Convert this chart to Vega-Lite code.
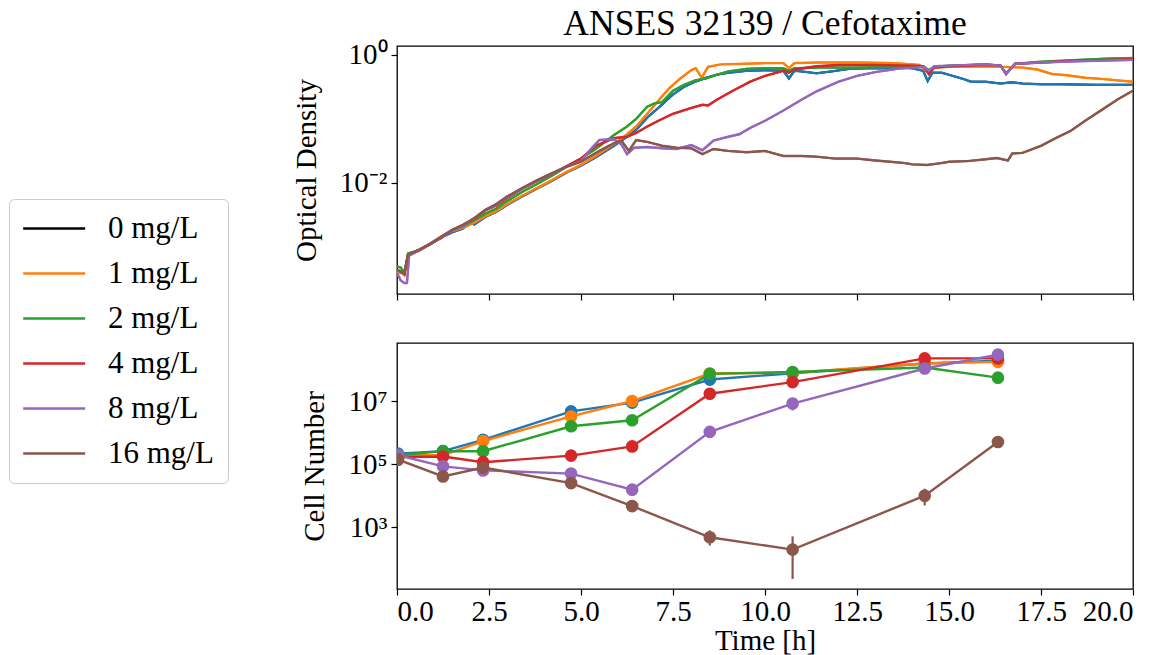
{
  "$schema": "https://vega.github.io/schema/vega-lite/v6.json",
  "padding": {"left": 8, "top": 6, "right": 20, "bottom": 0},
  "background": "white",
  "config": {
    "font": "Liberation Serif",
    "view": {"stroke": "black", "strokeWidth": 1.3},
    "axis": {"labelFont": "Liberation Serif", "titleFont": "Liberation Serif", "labelFontSize": 29, "titleFontSize": 29, "titleFontWeight": "normal", "labelColor": "black", "titleColor": "black", "domain": false, "tickColor": "black", "tickSize": 6, "tickWidth": 1.2, "grid": false, "labelPadding": 4, "titlePadding": 18},
    "legend": {"title": null, "labelFont": "Liberation Serif", "labelFontSize": 31, "labelColor": "black", "strokeColor": "#cccccc", "fillColor": "white", "cornerRadius": 5}
  },
  "datasets": {
    "od": [
      {"c":"0 mg/L","t":0,"od":0.000417},{"c":"0 mg/L","t":0.1,"od":0.000398},{"c":"0 mg/L","t":0.2,"od":0.00038},{"c":"0 mg/L","t":0.3,"od":0.000759},{"c":"0 mg/L","t":0.6,"od":0.000891},{"c":"0 mg/L","t":0.9,"od":0.001096},{"c":"0 mg/L","t":1.2,"od":0.001413},{"c":"0 mg/L","t":1.5,"od":0.001698},{"c":"0 mg/L","t":1.8,"od":0.00195},{"c":"0 mg/L","t":2.0,"od":0.00251},{"c":"0 mg/L","t":2.1,"od":0.00224},{"c":"0 mg/L","t":2.4,"od":0.00295},{"c":"0 mg/L","t":2.7,"od":0.00355},{"c":"0 mg/L","t":3.0,"od":0.00457},{"c":"0 mg/L","t":3.4,"od":0.00617},{"c":"0 mg/L","t":3.8,"od":0.00813},{"c":"0 mg/L","t":4.2,"od":0.01072},{"c":"0 mg/L","t":4.6,"od":0.01445},{"c":"0 mg/L","t":5.0,"od":0.01862},{"c":"0 mg/L","t":5.4,"od":0.0251},{"c":"0 mg/L","t":5.9,"od":0.038},{"c":"0 mg/L","t":6.25,"od":0.0525},{"c":"0 mg/L","t":6.5,"od":0.0676},{"c":"0 mg/L","t":6.8,"od":0.1047},{"c":"0 mg/L","t":7.1,"od":0.148},{"c":"0 mg/L","t":7.5,"od":0.24},{"c":"0 mg/L","t":7.8,"od":0.316},{"c":"0 mg/L","t":8.1,"od":0.38},{"c":"0 mg/L","t":8.4,"od":0.437},{"c":"0 mg/L","t":8.7,"od":0.49},{"c":"0 mg/L","t":9.0,"od":0.525},{"c":"0 mg/L","t":9.5,"od":0.562},{"c":"0 mg/L","t":10.0,"od":0.575},{"c":"0 mg/L","t":10.5,"od":0.562},{"c":"0 mg/L","t":10.65,"od":0.427},{"c":"0 mg/L","t":10.8,"od":0.562},{"c":"0 mg/L","t":11.0,"od":0.55},{"c":"0 mg/L","t":11.4,"od":0.513},{"c":"0 mg/L","t":11.8,"od":0.55},{"c":"0 mg/L","t":12.3,"od":0.603},{"c":"0 mg/L","t":12.8,"od":0.617},{"c":"0 mg/L","t":13.3,"od":0.617},{"c":"0 mg/L","t":13.6,"od":0.631},{"c":"0 mg/L","t":14.0,"od":0.617},{"c":"0 mg/L","t":14.3,"od":0.562},{"c":"0 mg/L","t":14.42,"od":0.389},{"c":"0 mg/L","t":14.55,"od":0.525},{"c":"0 mg/L","t":14.8,"od":0.525},{"c":"0 mg/L","t":15.1,"od":0.468},{"c":"0 mg/L","t":15.4,"od":0.417},{"c":"0 mg/L","t":15.6,"od":0.38},{"c":"0 mg/L","t":16.0,"od":0.38},{"c":"0 mg/L","t":16.4,"od":0.355},{"c":"0 mg/L","t":16.7,"od":0.372},{"c":"0 mg/L","t":17.0,"od":0.355},{"c":"0 mg/L","t":17.5,"od":0.347},{"c":"0 mg/L","t":18.0,"od":0.347},{"c":"0 mg/L","t":19.0,"od":0.339},{"c":"0 mg/L","t":20.0,"od":0.339},
      {"c":"1 mg/L","t":0,"od":0.000398},{"c":"1 mg/L","t":0.1,"od":0.000417},{"c":"1 mg/L","t":0.2,"od":0.000363},{"c":"1 mg/L","t":0.3,"od":0.000759},{"c":"1 mg/L","t":0.6,"od":0.000871},{"c":"1 mg/L","t":0.9,"od":0.00112},{"c":"1 mg/L","t":1.2,"od":0.001445},{"c":"1 mg/L","t":1.5,"od":0.00178},{"c":"1 mg/L","t":1.8,"od":0.002},{"c":"1 mg/L","t":2.1,"od":0.0024},{"c":"1 mg/L","t":2.4,"od":0.00302},{"c":"1 mg/L","t":2.7,"od":0.00363},{"c":"1 mg/L","t":3.0,"od":0.00468},{"c":"1 mg/L","t":3.4,"od":0.00631},{"c":"1 mg/L","t":3.8,"od":0.00832},{"c":"1 mg/L","t":4.2,"od":0.01096},{"c":"1 mg/L","t":4.6,"od":0.01479},{"c":"1 mg/L","t":5.0,"od":0.0191},{"c":"1 mg/L","t":5.4,"od":0.0263},{"c":"1 mg/L","t":5.9,"od":0.0407},{"c":"1 mg/L","t":6.25,"od":0.0575},{"c":"1 mg/L","t":6.5,"od":0.0759},{"c":"1 mg/L","t":6.8,"od":0.12},{"c":"1 mg/L","t":7.1,"od":0.191},{"c":"1 mg/L","t":7.4,"od":0.302},{"c":"1 mg/L","t":7.7,"od":0.427},{"c":"1 mg/L","t":8.0,"od":0.575},{"c":"1 mg/L","t":8.12,"od":0.617},{"c":"1 mg/L","t":8.28,"od":0.437},{"c":"1 mg/L","t":8.45,"od":0.646},{"c":"1 mg/L","t":8.8,"od":0.708},{"c":"1 mg/L","t":9.5,"od":0.724},{"c":"1 mg/L","t":10.0,"od":0.741},{"c":"1 mg/L","t":10.5,"od":0.741},{"c":"1 mg/L","t":10.65,"od":0.617},{"c":"1 mg/L","t":10.8,"od":0.741},{"c":"1 mg/L","t":11.5,"od":0.759},{"c":"1 mg/L","t":12.5,"od":0.759},{"c":"1 mg/L","t":13.5,"od":0.741},{"c":"1 mg/L","t":14.2,"od":0.692},{"c":"1 mg/L","t":14.42,"od":0.537},{"c":"1 mg/L","t":14.6,"od":0.631},{"c":"1 mg/L","t":15.0,"od":0.646},{"c":"1 mg/L","t":16.0,"od":0.661},{"c":"1 mg/L","t":16.5,"od":0.646},{"c":"1 mg/L","t":17.0,"od":0.631},{"c":"1 mg/L","t":17.4,"od":0.589},{"c":"1 mg/L","t":17.8,"od":0.501},{"c":"1 mg/L","t":18.2,"od":0.479},{"c":"1 mg/L","t":18.7,"od":0.437},{"c":"1 mg/L","t":19.2,"od":0.417},{"c":"1 mg/L","t":19.6,"od":0.398},{"c":"1 mg/L","t":20.0,"od":0.38},
      {"c":"2 mg/L","t":0,"od":0.000501},{"c":"2 mg/L","t":0.1,"od":0.000479},{"c":"2 mg/L","t":0.2,"od":0.000398},{"c":"2 mg/L","t":0.3,"od":0.000794},{"c":"2 mg/L","t":0.6,"od":0.000891},{"c":"2 mg/L","t":0.9,"od":0.00112},{"c":"2 mg/L","t":1.2,"od":0.001445},{"c":"2 mg/L","t":1.5,"od":0.00182},{"c":"2 mg/L","t":1.8,"od":0.00209},{"c":"2 mg/L","t":2.1,"od":0.00263},{"c":"2 mg/L","t":2.4,"od":0.00331},{"c":"2 mg/L","t":2.7,"od":0.00398},{"c":"2 mg/L","t":3.0,"od":0.00525},{"c":"2 mg/L","t":3.4,"od":0.00724},{"c":"2 mg/L","t":3.8,"od":0.00955},{"c":"2 mg/L","t":4.2,"od":0.0129},{"c":"2 mg/L","t":4.6,"od":0.0178},{"c":"2 mg/L","t":5.0,"od":0.024},{"c":"2 mg/L","t":5.4,"od":0.0339},{"c":"2 mg/L","t":5.9,"od":0.0562},{"c":"2 mg/L","t":6.25,"od":0.0759},{"c":"2 mg/L","t":6.5,"od":0.1},{"c":"2 mg/L","t":6.8,"od":0.155},{"c":"2 mg/L","t":7.0,"od":0.174},{"c":"2 mg/L","t":7.2,"od":0.182},{"c":"2 mg/L","t":7.5,"od":0.275},{"c":"2 mg/L","t":7.8,"od":0.339},{"c":"2 mg/L","t":8.1,"od":0.398},{"c":"2 mg/L","t":8.4,"od":0.427},{"c":"2 mg/L","t":8.7,"od":0.49},{"c":"2 mg/L","t":9.0,"od":0.55},{"c":"2 mg/L","t":9.5,"od":0.603},{"c":"2 mg/L","t":10.0,"od":0.617},{"c":"2 mg/L","t":10.5,"od":0.617},{"c":"2 mg/L","t":10.65,"od":0.562},{"c":"2 mg/L","t":10.8,"od":0.617},{"c":"2 mg/L","t":11.5,"od":0.631},{"c":"2 mg/L","t":12.5,"od":0.631},{"c":"2 mg/L","t":13.5,"od":0.646},{"c":"2 mg/L","t":14.3,"od":0.661},{"c":"2 mg/L","t":14.45,"od":0.575},{"c":"2 mg/L","t":14.6,"od":0.646},{"c":"2 mg/L","t":15.0,"od":0.676},{"c":"2 mg/L","t":16.0,"od":0.708},{"c":"2 mg/L","t":16.4,"od":0.676},{"c":"2 mg/L","t":16.55,"od":0.513},{"c":"2 mg/L","t":16.8,"od":0.724},{"c":"2 mg/L","t":17.5,"od":0.776},{"c":"2 mg/L","t":18.5,"od":0.832},{"c":"2 mg/L","t":19.3,"od":0.871},{"c":"2 mg/L","t":20.0,"od":0.891},
      {"c":"4 mg/L","t":0,"od":0.000437},{"c":"4 mg/L","t":0.1,"od":0.000417},{"c":"4 mg/L","t":0.2,"od":0.00038},{"c":"4 mg/L","t":0.3,"od":0.000724},{"c":"4 mg/L","t":0.6,"od":0.000891},{"c":"4 mg/L","t":0.9,"od":0.00112},{"c":"4 mg/L","t":1.2,"od":0.00138},{"c":"4 mg/L","t":1.5,"od":0.00182},{"c":"4 mg/L","t":1.8,"od":0.00219},{"c":"4 mg/L","t":2.1,"od":0.00275},{"c":"4 mg/L","t":2.4,"od":0.00372},{"c":"4 mg/L","t":2.7,"od":0.00447},{"c":"4 mg/L","t":3.0,"od":0.00589},{"c":"4 mg/L","t":3.4,"od":0.00813},{"c":"4 mg/L","t":3.8,"od":0.01072},{"c":"4 mg/L","t":4.2,"od":0.0138},{"c":"4 mg/L","t":4.6,"od":0.0182},{"c":"4 mg/L","t":5.0,"od":0.024},{"c":"4 mg/L","t":5.4,"od":0.038},{"c":"4 mg/L","t":5.9,"od":0.0501},{"c":"4 mg/L","t":6.25,"od":0.0525},{"c":"4 mg/L","t":6.5,"od":0.0603},{"c":"4 mg/L","t":6.8,"od":0.0759},{"c":"4 mg/L","t":7.1,"od":0.0933},{"c":"4 mg/L","t":7.5,"od":0.12},{"c":"4 mg/L","t":8.0,"od":0.148},{"c":"4 mg/L","t":8.3,"od":0.166},{"c":"4 mg/L","t":8.45,"od":0.162},{"c":"4 mg/L","t":8.7,"od":0.2},{"c":"4 mg/L","t":9.1,"od":0.269},{"c":"4 mg/L","t":9.6,"od":0.38},{"c":"4 mg/L","t":10.0,"od":0.468},{"c":"4 mg/L","t":10.5,"od":0.562},{"c":"4 mg/L","t":10.65,"od":0.525},{"c":"4 mg/L","t":10.8,"od":0.589},{"c":"4 mg/L","t":11.4,"od":0.661},{"c":"4 mg/L","t":12.0,"od":0.692},{"c":"4 mg/L","t":13.0,"od":0.692},{"c":"4 mg/L","t":14.0,"od":0.676},{"c":"4 mg/L","t":14.3,"od":0.661},{"c":"4 mg/L","t":14.45,"od":0.501},{"c":"4 mg/L","t":14.6,"od":0.631},{"c":"4 mg/L","t":15.0,"od":0.661},{"c":"4 mg/L","t":16.0,"od":0.692},{"c":"4 mg/L","t":16.4,"od":0.676},{"c":"4 mg/L","t":16.55,"od":0.501},{"c":"4 mg/L","t":16.8,"od":0.724},{"c":"4 mg/L","t":17.5,"od":0.759},{"c":"4 mg/L","t":18.5,"od":0.813},{"c":"4 mg/L","t":19.3,"od":0.832},{"c":"4 mg/L","t":20.0,"od":0.851},
      {"c":"8 mg/L","t":0,"od":0.000398},{"c":"8 mg/L","t":0.1,"od":0.000302},{"c":"8 mg/L","t":0.2,"od":0.000275},{"c":"8 mg/L","t":0.27,"od":0.000275},{"c":"8 mg/L","t":0.33,"od":0.000741},{"c":"8 mg/L","t":0.6,"od":0.000891},{"c":"8 mg/L","t":0.9,"od":0.00112},{"c":"8 mg/L","t":1.2,"od":0.00141},{"c":"8 mg/L","t":1.5,"od":0.00182},{"c":"8 mg/L","t":1.8,"od":0.00214},{"c":"8 mg/L","t":2.1,"od":0.00282},{"c":"8 mg/L","t":2.4,"od":0.00372},{"c":"8 mg/L","t":2.7,"od":0.00457},{"c":"8 mg/L","t":3.0,"od":0.00603},{"c":"8 mg/L","t":3.4,"od":0.00813},{"c":"8 mg/L","t":3.8,"od":0.01072},{"c":"8 mg/L","t":4.2,"od":0.0138},{"c":"8 mg/L","t":4.6,"od":0.0178},{"c":"8 mg/L","t":5.0,"od":0.0219},{"c":"8 mg/L","t":5.3,"od":0.0355},{"c":"8 mg/L","t":5.5,"od":0.0468},{"c":"8 mg/L","t":5.9,"od":0.0479},{"c":"8 mg/L","t":6.1,"od":0.0398},{"c":"8 mg/L","t":6.25,"od":0.0282},{"c":"8 mg/L","t":6.45,"od":0.0355},{"c":"8 mg/L","t":6.8,"od":0.0363},{"c":"8 mg/L","t":7.2,"od":0.0347},{"c":"8 mg/L","t":7.6,"od":0.0339},{"c":"8 mg/L","t":8.0,"od":0.0389},{"c":"8 mg/L","t":8.3,"od":0.0324},{"c":"8 mg/L","t":8.6,"od":0.0457},{"c":"8 mg/L","t":9.0,"od":0.0525},{"c":"8 mg/L","t":9.3,"od":0.0575},{"c":"8 mg/L","t":9.6,"od":0.0724},{"c":"8 mg/L","t":10.0,"od":0.0933},{"c":"8 mg/L","t":10.5,"od":0.135},{"c":"8 mg/L","t":11.0,"od":0.2},{"c":"8 mg/L","t":11.4,"od":0.269},{"c":"8 mg/L","t":12.0,"od":0.38},{"c":"8 mg/L","t":12.5,"od":0.468},{"c":"8 mg/L","t":13.0,"od":0.537},{"c":"8 mg/L","t":13.6,"od":0.603},{"c":"8 mg/L","t":14.0,"od":0.631},{"c":"8 mg/L","t":14.3,"od":0.646},{"c":"8 mg/L","t":14.45,"od":0.562},{"c":"8 mg/L","t":14.6,"od":0.661},{"c":"8 mg/L","t":15.0,"od":0.676},{"c":"8 mg/L","t":16.0,"od":0.708},{"c":"8 mg/L","t":16.4,"od":0.676},{"c":"8 mg/L","t":16.55,"od":0.501},{"c":"8 mg/L","t":16.8,"od":0.724},{"c":"8 mg/L","t":17.5,"od":0.759},{"c":"8 mg/L","t":18.5,"od":0.794},{"c":"8 mg/L","t":19.3,"od":0.813},{"c":"8 mg/L","t":20.0,"od":0.832},
      {"c":"16 mg/L","t":0,"od":0.000437},{"c":"16 mg/L","t":0.1,"od":0.000417},{"c":"16 mg/L","t":0.2,"od":0.00038},{"c":"16 mg/L","t":0.3,"od":0.000759},{"c":"16 mg/L","t":0.6,"od":0.000912},{"c":"16 mg/L","t":0.9,"od":0.00112},{"c":"16 mg/L","t":1.2,"od":0.00145},{"c":"16 mg/L","t":1.5,"od":0.00186},{"c":"16 mg/L","t":1.8,"od":0.00224},{"c":"16 mg/L","t":2.1,"od":0.00282},{"c":"16 mg/L","t":2.4,"od":0.0038},{"c":"16 mg/L","t":2.7,"od":0.00468},{"c":"16 mg/L","t":3.0,"od":0.00617},{"c":"16 mg/L","t":3.4,"od":0.00832},{"c":"16 mg/L","t":3.8,"od":0.01096},{"c":"16 mg/L","t":4.2,"od":0.0141},{"c":"16 mg/L","t":4.6,"od":0.0178},{"c":"16 mg/L","t":5.0,"od":0.0214},{"c":"16 mg/L","t":5.5,"od":0.0316},{"c":"16 mg/L","t":5.9,"od":0.0417},{"c":"16 mg/L","t":6.1,"od":0.0457},{"c":"16 mg/L","t":6.3,"od":0.0316},{"c":"16 mg/L","t":6.5,"od":0.0468},{"c":"16 mg/L","t":6.8,"od":0.0437},{"c":"16 mg/L","t":7.2,"od":0.038},{"c":"16 mg/L","t":7.6,"od":0.0355},{"c":"16 mg/L","t":8.0,"od":0.0347},{"c":"16 mg/L","t":8.3,"od":0.0282},{"c":"16 mg/L","t":8.6,"od":0.0339},{"c":"16 mg/L","t":9.0,"od":0.0316},{"c":"16 mg/L","t":9.5,"od":0.0302},{"c":"16 mg/L","t":10.0,"od":0.0316},{"c":"16 mg/L","t":10.5,"od":0.0263},{"c":"16 mg/L","t":11.0,"od":0.0263},{"c":"16 mg/L","t":11.4,"od":0.0257},{"c":"16 mg/L","t":11.9,"od":0.024},{"c":"16 mg/L","t":12.5,"od":0.024},{"c":"16 mg/L","t":13.0,"od":0.0224},{"c":"16 mg/L","t":13.4,"od":0.0214},{"c":"16 mg/L","t":13.8,"od":0.0204},{"c":"16 mg/L","t":14.0,"od":0.0195},{"c":"16 mg/L","t":14.4,"od":0.0191},{"c":"16 mg/L","t":14.8,"od":0.0204},{"c":"16 mg/L","t":15.0,"od":0.0214},{"c":"16 mg/L","t":15.5,"od":0.0219},{"c":"16 mg/L","t":16.0,"od":0.0234},{"c":"16 mg/L","t":16.3,"od":0.0245},{"c":"16 mg/L","t":16.6,"od":0.0224},{"c":"16 mg/L","t":16.72,"od":0.0288},{"c":"16 mg/L","t":17.0,"od":0.0295},{"c":"16 mg/L","t":17.5,"od":0.038},{"c":"16 mg/L","t":17.9,"od":0.0501},{"c":"16 mg/L","t":18.3,"od":0.0646},{"c":"16 mg/L","t":18.7,"od":0.0933},{"c":"16 mg/L","t":19.1,"od":0.132},{"c":"16 mg/L","t":19.6,"od":0.204},{"c":"16 mg/L","t":20.0,"od":0.275}
    ],
    "cells": [
      {"c":"0 mg/L","t":0.03,"n":214000},{"c":"0 mg/L","t":1.25,"n":257000},{"c":"0 mg/L","t":2.34,"n":589000},{"c":"0 mg/L","t":4.73,"n":4680000},{"c":"0 mg/L","t":6.39,"n":8910000},{"c":"0 mg/L","t":8.5,"n":47900000},{"c":"0 mg/L","t":10.75,"n":75900000},{"c":"0 mg/L","t":14.34,"n":155000000},{"c":"0 mg/L","t":16.33,"n":191000000},
      {"c":"1 mg/L","t":0.03,"n":191000},{"c":"1 mg/L","t":1.25,"n":191000},{"c":"1 mg/L","t":2.34,"n":537000},{"c":"1 mg/L","t":4.73,"n":3240000},{"c":"1 mg/L","t":6.39,"n":10000000},{"c":"1 mg/L","t":8.5,"n":74100000},{"c":"1 mg/L","t":10.75,"n":79400000},{"c":"1 mg/L","t":14.34,"n":155000000},{"c":"1 mg/L","t":16.33,"n":174000000},
      {"c":"2 mg/L","t":0.03,"n":191000},{"c":"2 mg/L","t":1.25,"n":257000},{"c":"2 mg/L","t":2.34,"n":257000},{"c":"2 mg/L","t":4.73,"n":1580000},{"c":"2 mg/L","t":6.39,"n":2450000},{"c":"2 mg/L","t":8.5,"n":72400000},{"c":"2 mg/L","t":10.75,"n":83200000},{"c":"2 mg/L","t":14.34,"n":115000000},{"c":"2 mg/L","t":16.33,"n":55000000},
      {"c":"4 mg/L","t":0.03,"n":166000},{"c":"4 mg/L","t":1.25,"n":174000},{"c":"4 mg/L","t":2.34,"n":115000},{"c":"4 mg/L","t":4.73,"n":186000},{"c":"4 mg/L","t":6.39,"n":363000},{"c":"4 mg/L","t":8.5,"n":17000000},{"c":"4 mg/L","t":10.75,"n":39800000},{"c":"4 mg/L","t":14.34,"n":224000000},{"c":"4 mg/L","t":16.33,"n":224000000},
      {"c":"8 mg/L","t":0.03,"n":191000},{"c":"8 mg/L","t":1.25,"n":85100},{"c":"8 mg/L","t":2.34,"n":63100},{"c":"8 mg/L","t":4.73,"n":50100},{"c":"8 mg/L","t":6.39,"n":15500},{"c":"8 mg/L","t":8.5,"n":1050000},{"c":"8 mg/L","t":10.75,"n":8320000,"lo":5010000,"hi":12000000},{"c":"8 mg/L","t":14.34,"n":107000000},{"c":"8 mg/L","t":16.33,"n":295000000},
      {"c":"16 mg/L","t":0.03,"n":138000},{"c":"16 mg/L","t":1.25,"n":40700,"lo":28800,"hi":56200},{"c":"16 mg/L","t":2.34,"n":77600},{"c":"16 mg/L","t":4.73,"n":25100},{"c":"16 mg/L","t":6.39,"n":4680,"lo":3800,"hi":5600},{"c":"16 mg/L","t":8.5,"n":479,"lo":263,"hi":794},{"c":"16 mg/L","t":10.75,"n":195,"lo":22.9,"hi":513},{"c":"16 mg/L","t":14.34,"n":10000,"lo":4900,"hi":16600},{"c":"16 mg/L","t":16.33,"n":501000}
    ]
  },
  "spacing": 40,
  "vconcat": [
    {
      "title": {"text": "ANSES 32139 / Cefotaxime", "font": "Liberation Serif", "fontSize": 35.5, "fontWeight": "normal", "color": "black", "offset": -2},
      "width": 736,
      "height": 248,
      "data": {"name": "od"},
      "encoding": {
        "x": {"field": "t", "type": "quantitative", "scale": {"domain": [0, 20], "nice": false, "zero": false}, "axis": {"labels": false, "title": null, "values": [0, 2.5, 5, 7.5, 10, 12.5, 15, 17.5, 20]}},
        "y": {"field": "od", "type": "quantitative", "scale": {"type": "log", "domain": [0.000185, 1.37], "nice": false}, "axis": {"values": [0.01, 1], "labelExpr": "datum.value >= 0.5 ? '10⁰' : '10⁻²'", "title": "Optical Density"}}
      },
      "layer": [
        {
          "mark": {"type": "line", "clip": true},
          "encoding": {
            "color": {"field": "c", "type": "nominal", "scale": {"domain": ["0 mg/L", "1 mg/L", "2 mg/L", "4 mg/L", "8 mg/L", "16 mg/L"], "range": ["#000000", "#ff7f0e", "#2ca02c", "#d62728", "#9467bd", "#8c564b"]}, "legend": {"orient": "none", "legendX": -388, "legendY": 153, "title": null, "symbolType": "M-1.48,0H4.51", "symbolSize": 428, "symbolStrokeWidth": 2.6, "labelOffset": 54, "padding": 14, "rowPadding": 13}}
          }
        },
        {
          "mark": {"type": "line", "strokeWidth": 2.4, "clip": true},
          "encoding": {
            "stroke": {"field": "c", "type": "nominal", "scale": {"domain": ["0 mg/L", "1 mg/L", "2 mg/L", "4 mg/L", "8 mg/L", "16 mg/L"], "range": ["#1f77b4", "#ff7f0e", "#2ca02c", "#d62728", "#9467bd", "#8c564b"]}, "legend": null}
          }
        }
      ]
    },
    {
      "width": 736,
      "height": 246,
      "data": {"name": "cells"},
      "encoding": {
        "x": {"field": "t", "type": "quantitative", "scale": {"domain": [0, 20], "nice": false, "zero": false}, "axis": {"values": [0, 2.5, 5, 7.5, 10, 12.5, 15, 17.5, 20], "format": ".1f", "title": "Time [h]", "labelPadding": 2, "titlePadding": 0}}
      },
      "layer": [
        {
          "transform": [{"filter": "isValid(datum.lo)"}],
          "mark": {"type": "rule", "strokeWidth": 2.2, "clip": true},
          "encoding": {
            "y": {"field": "lo", "type": "quantitative", "scale": {"type": "log", "domain": [11, 690000000], "nice": false}, "axis": {"values": [1000, 100000, 10000000], "labelExpr": "datum.value > 1000000 ? '10⁷' : datum.value > 10000 ? '10⁵' : '10³'", "title": "Cell Number"}},
            "y2": {"field": "hi"},
            "stroke": {"field": "c", "type": "nominal", "legend": null}
          }
        },
        {
          "mark": {"type": "line", "strokeWidth": 2.4, "clip": true},
          "encoding": {
            "y": {"field": "n", "type": "quantitative", "scale": {"type": "log", "domain": [11, 690000000], "nice": false}, "axis": {"values": [1000, 100000, 10000000], "labelExpr": "datum.value > 1000000 ? '10⁷' : datum.value > 10000 ? '10⁵' : '10³'", "title": "Cell Number"}},
            "stroke": {"field": "c", "type": "nominal", "legend": null}
          }
        },
        {
          "mark": {"type": "point", "filled": true, "size": 160, "opacity": 1, "clip": true},
          "encoding": {
            "y": {"field": "n", "type": "quantitative", "scale": {"type": "log", "domain": [11, 690000000], "nice": false}, "axis": {"values": [1000, 100000, 10000000], "labelExpr": "datum.value > 1000000 ? '10⁷' : datum.value > 10000 ? '10⁵' : '10³'", "title": "Cell Number"}},
            "fill": {"field": "c", "type": "nominal", "scale": {"domain": ["0 mg/L", "1 mg/L", "2 mg/L", "4 mg/L", "8 mg/L", "16 mg/L"], "range": ["#1f77b4", "#ff7f0e", "#2ca02c", "#d62728", "#9467bd", "#8c564b"]}, "legend": null}
          }
        }
      ]
    }
  ]
}
